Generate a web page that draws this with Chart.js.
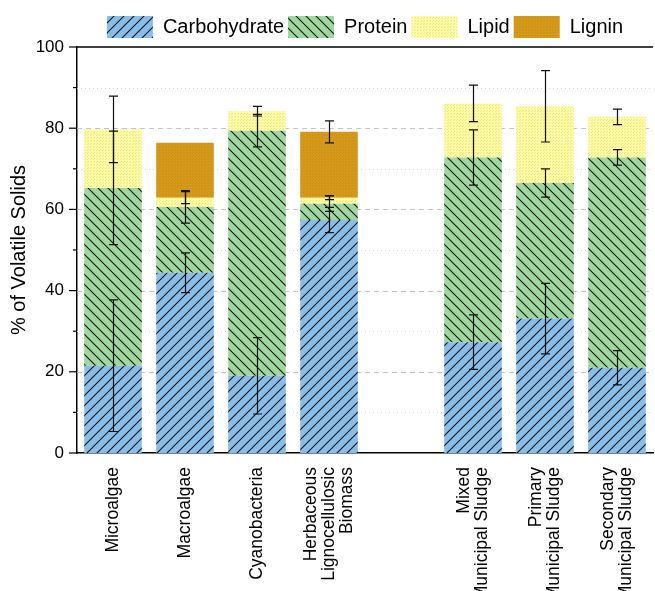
<!DOCTYPE html>
<html lang="en">
<head>
  <meta charset="UTF-8" />
  <title>Composition of Volatile Solids</title>
  <script src="https://cdn.jsdelivr.net/npm/chart.js"></script>
  <style>
    html, body { margin: 0; padding: 0; background: #fff; }
    #wrap { width: 655px; height: 591px; }
  </style>
</head>
<body>
  <div id="wrap"><canvas id="vsChart" width="655" height="591"></canvas></div>

  <script>
    // categories (empty slot = gap between the two groups)
    const categories = [
      'Microalgae',
      'Macroalgae',
      'Cyanobacteria',
      ['Herbaceous', 'Lignocellulosic', 'Biomass'],
      '',
      ['Mixed', 'Municipal Sludge'],
      ['Primary', 'Municipal Sludge'],
      ['Secondary', 'Municipal Sludge']
    ];

    const carbohydrate = [21.5, 44.4, 19.0, 57.4, null, 27.3, 33.1, 21.0];
    const protein      = [43.8, 16.2, 60.4,  4.0, null, 45.5, 33.4, 51.8];
    const lipid        = [14.4,  2.3,  4.8,  1.5, null, 13.3, 18.9, 10.0];
    const lignin       = [ 0.0, 13.5,  0.0, 16.2, null,  0.0,  0.0,  0.0];

    // error bar half widths, drawn at the top of each stacked segment
    const carbohydrateErr = [16.2, 4.9, 9.4, 3.1, null, 6.7, 8.7, 4.2];
    const proteinErr      = [14.0, 4.0, 4.0, 1.9, null, 6.8, 3.5, 1.9];
    const lipidErr        = [ 8.2, 1.5, 1.2, 0.5, null, 4.5, 8.8, 1.9];
    const ligninErr       = [null, null, null, 2.7, null, null, null, null];

    const yTicks = [0, 20, 40, 60, 80, 100];

    const FONT = '"Liberation Sans", Arial, sans-serif';

    function hatch(bg, dir) {
      const s = 10;
      const c = document.createElement('canvas');
      c.width = s; c.height = s;
      const g = c.getContext('2d');
      g.fillStyle = bg;
      g.fillRect(0, 0, s, s);
      g.strokeStyle = '#111';
      g.lineWidth = 1.1;
      g.beginPath();
      if (dir === '/') {
        g.moveTo(0, s); g.lineTo(s, 0);
        g.moveTo(-2, 2); g.lineTo(2, -2);
        g.moveTo(s - 2, s + 2); g.lineTo(s + 2, s - 2);
      } else {
        g.moveTo(0, 0); g.lineTo(s, s);
        g.moveTo(-2, s - 2); g.lineTo(2, s + 2);
        g.moveTo(s - 2, -2); g.lineTo(s + 2, 2);
      }
      g.stroke();
      return g.createPattern(c, 'repeat');
    }

    function dots(bg, dot) {
      const c = document.createElement('canvas');
      c.width = 3; c.height = 3;
      const g = c.getContext('2d');
      g.fillStyle = bg;
      g.fillRect(0, 0, 3, 3);
      g.fillStyle = dot;
      g.fillRect(0, 0, 1, 1);
      g.fillRect(1, 2, 1, 1);
      return g.createPattern(c, 'repeat');
    }

    const errors = [carbohydrateErr, proteinErr, lipidErr, ligninErr];

    // trim the legend box so the plot starts right under it
    const legendRoom = {
      id: 'legendRoom',
      beforeLayout(chart) {
        const lg = chart.legend;
        if (lg && !lg._trimmed) {
          const fit = lg.fit;
          lg.fit = function () { fit.call(this); this.height -= 1; };
          lg._trimmed = true;
        }
      }
    };

    // grid lines + axis ticks + top frame
    const frame = {
      id: 'frame',
      beforeDatasetsDraw(chart) {
        const { ctx, chartArea: a, scales: { y } } = chart;
        ctx.save();
        ctx.lineWidth = 1;
        for (let v = 10; v < 100; v += 10) {
          const py = Math.round(y.getPixelForValue(v)) + 0.5;
          if (v % 20 === 0) {
            ctx.strokeStyle = '#c4c4c4';
            ctx.setLineDash([5, 4]);
          } else {
            ctx.strokeStyle = '#d2d2d2';
            ctx.setLineDash([1, 3]);
          }
          ctx.beginPath();
          ctx.moveTo(a.left, py);
          ctx.lineTo(a.right, py);
          ctx.stroke();
        }
        ctx.restore();
      },
      afterDraw(chart) {
        const { ctx, chartArea: a, scales: { x, y } } = chart;
        ctx.save();
        ctx.strokeStyle = '#000';
        ctx.lineWidth = 1.5;
        ctx.beginPath();
        ctx.moveTo(a.left, a.top);
        ctx.lineTo(a.right, a.top);
        ctx.stroke();
        ctx.lineWidth = 1.2;
        for (let v = 0; v <= 100; v += 10) {
          const py = y.getPixelForValue(v);
          const len = v % 20 === 0 ? 8 : 4;
          ctx.beginPath();
          ctx.moveTo(a.left - len, py);
          ctx.lineTo(a.left, py);
          ctx.stroke();
        }

        // category labels, rotated, lines centred on the tick
        ctx.fillStyle = '#000';
        ctx.font = '17.5px ' + FONT;
        ctx.textAlign = 'right';
        ctx.textBaseline = 'middle';
        const lh = 18;
        categories.forEach((lab, i) => {
          const lines = Array.isArray(lab) ? lab : [lab];
          const px = x.getPixelForTick(i);
          lines.forEach((t, k) => {
            const off = (k - (lines.length - 1) / 2) * lh;
            ctx.save();
            ctx.translate(px + off, a.bottom + 14);
            ctx.rotate(-Math.PI / 2);
            ctx.fillText(t, 0, 0);
            ctx.restore();
          });
        });
        ctx.restore();
      }
    };

    const errorBars = {
      id: 'errorBars',
      afterDatasetsDraw(chart) {
        const { ctx, scales: { y } } = chart;
        ctx.save();
        ctx.strokeStyle = '#111';
        ctx.lineWidth = 1.2;
        chart.data.datasets.forEach((ds, di) => {
          const meta = chart.getDatasetMeta(di);
          ds.data.forEach((val, j) => {
            const e = errors[di][j];
            if (val == null || e == null) return;
            let top = 0;
            for (let k = 0; k <= di; k++) top += chart.data.datasets[k].data[j] || 0;
            const px = Math.round(meta.data[j].x) + 0.5;
            const y1 = y.getPixelForValue(top + e);
            const y2 = y.getPixelForValue(top - e);
            ctx.beginPath();
            ctx.moveTo(px, y1); ctx.lineTo(px, y2);
            ctx.moveTo(px - 4.5, y1); ctx.lineTo(px + 4.5, y1);
            ctx.moveTo(px - 4.5, y2); ctx.lineTo(px + 4.5, y2);
            ctx.stroke();
          });
        });
        ctx.restore();
      }
    };

    const ctx = document.getElementById('vsChart').getContext('2d');

    new Chart(ctx, {
      type: 'bar',
      data: {
        labels: categories,
        datasets: [
          { label: 'Carbohydrate', data: carbohydrate, backgroundColor: hatch('#88bfea', '/') },
          { label: 'Protein', data: protein, backgroundColor: hatch('#9fd89e', '\\') },
          { label: 'Lipid', data: lipid, backgroundColor: dots('#fffca6', '#eee585') },
          { label: 'Lignin', data: lignin, backgroundColor: dots('#d69a1a', '#c98e14') }
        ]
      },
      options: {
        responsive: false,
        animation: false,
        layout: { padding: { top: 12, right: 2, bottom: 0, left: 0 } },
        datasets: {
          bar: { barPercentage: 0.8, categoryPercentage: 1, borderWidth: 0 }
        },
        plugins: {
          tooltip: { enabled: false },
          legend: {
            position: 'top',
            fullSize: false,
            labels: {
              boxWidth: 46,
              boxHeight: 22,
              padding: 4,
              color: '#000',
              font: { family: FONT, size: 20 }
            }
          }
        },
        scales: {
          x: {
            stacked: true,
            offset: true,
            grid: { display: false },
            border: { display: true, color: '#000', width: 1.5 },
            ticks: { display: false },
            afterFit(scale) { scale.height = 138; }
          },
          y: {
            stacked: true,
            min: 0,
            max: 100,
            grid: { display: false, drawTicks: false },
            border: { display: true, color: '#000', width: 1.5 },
            ticks: {
              stepSize: 10,
              autoSkip: false,
              padding: 13,
              color: '#000',
              font: { family: FONT, size: 17 },
              callback: v => yTicks.includes(v) ? v : ''
            },
            title: {
              display: true,
              text: '% of Volatile Solids',
              color: '#000',
              padding: { top: 7, bottom: 0 },
              font: { family: FONT, size: 20 }
            },
            afterFit(scale) { scale.width = 77; }
          }
        }
      },
      plugins: [legendRoom, frame, errorBars]
    });
  </script>
</body>
</html>
